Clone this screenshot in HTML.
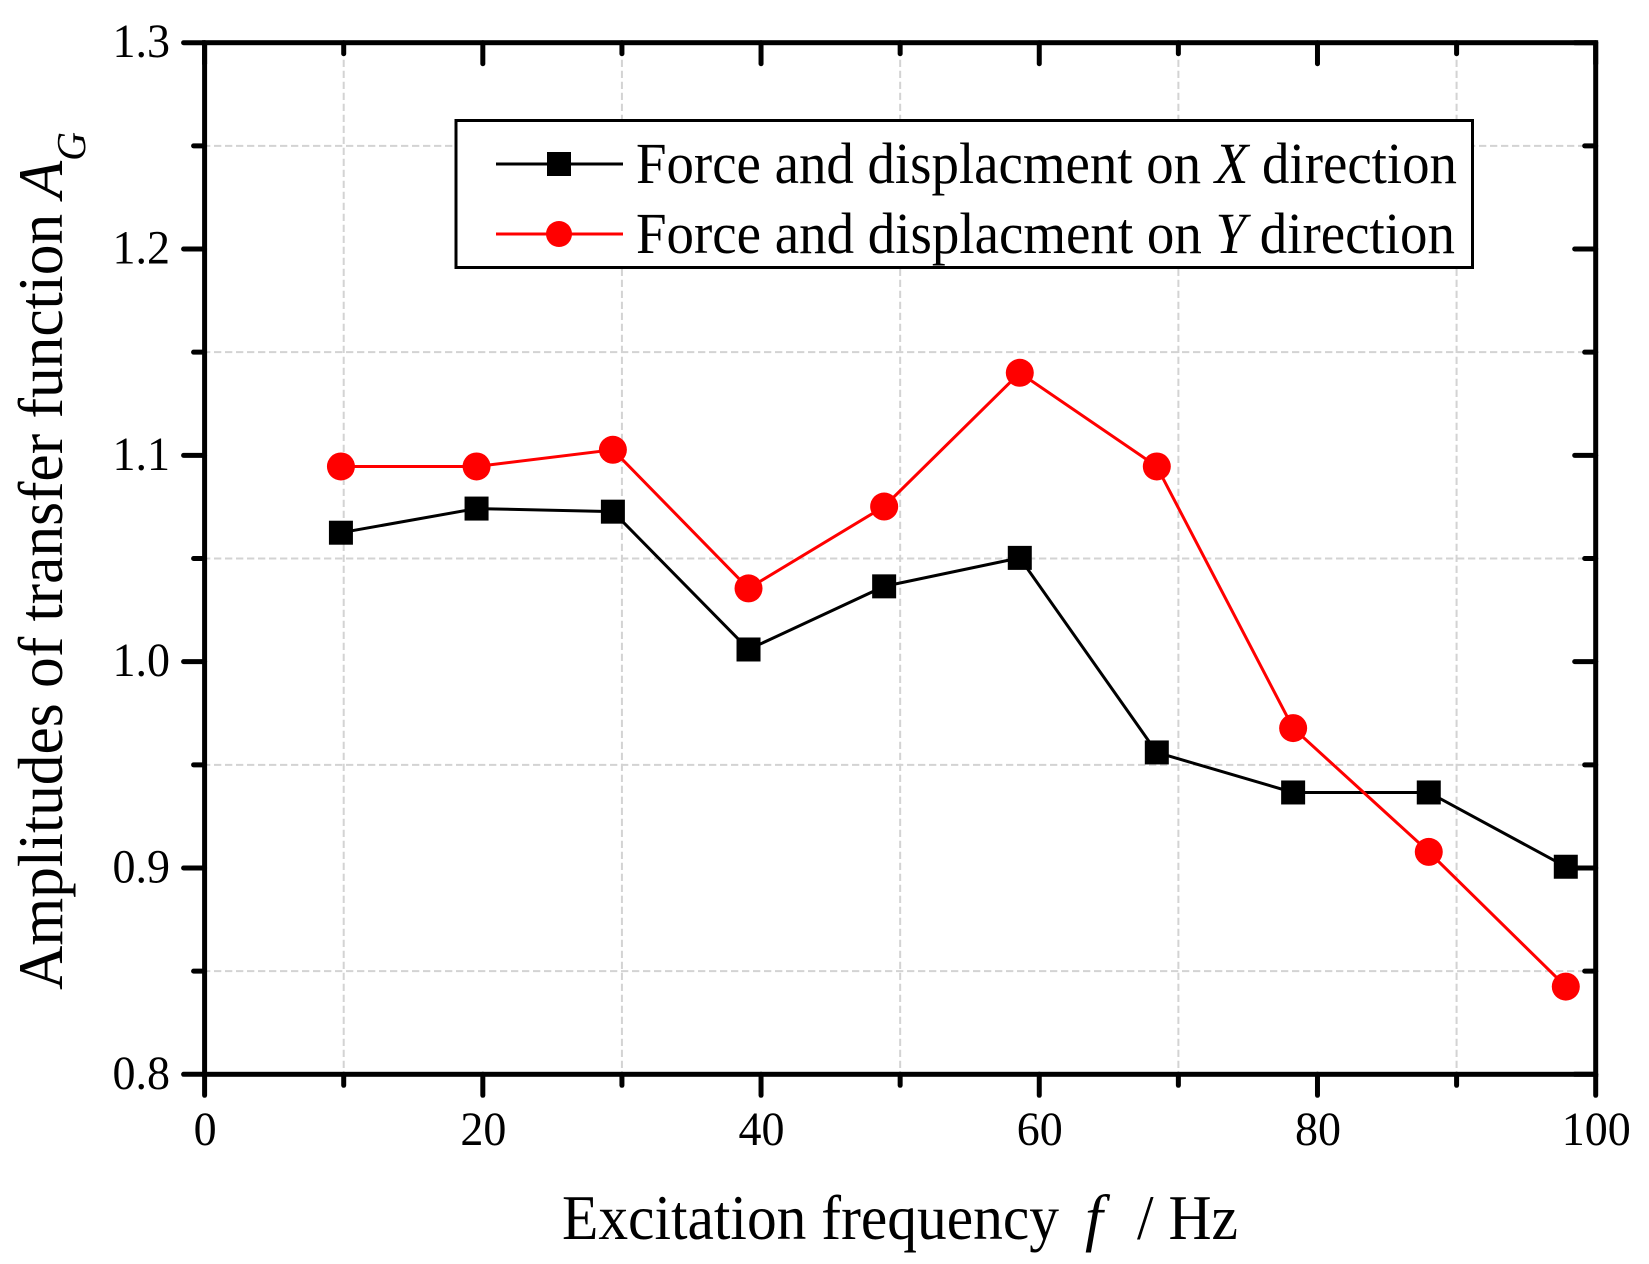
<!DOCTYPE html>
<html>
<head>
<meta charset="utf-8">
<title>Amplitudes of transfer function</title>
<style>
html,body{margin:0;padding:0;background:#fff;}
svg{display:block;}
text{font-family:"Liberation Serif",serif;fill:#000;}
</style>
</head>
<body>
<svg id="chart" width="1649" height="1264" viewBox="0 0 1649 1264" xmlns="http://www.w3.org/2000/svg">
<rect x="0" y="0" width="1649" height="1264" fill="#fff"/>
<g id="grid"></g>
<g id="axes"></g>
<g id="series"></g>
<g>
<rect x="456" y="120.5" width="1016.5" height="147" fill="#fff" stroke="#000" stroke-width="3"/>
<g>
<line x1="496" y1="164" x2="623" y2="164" stroke="#000" stroke-width="3"/>
<rect x="547" y="152" width="24" height="24" fill="#000"/>
<text x="636" y="183" font-size="58" textLength="821" lengthAdjust="spacingAndGlyphs">Force and displacment on <tspan font-style="italic">X</tspan> direction</text>
</g>
<g>
<line x1="496" y1="234" x2="623" y2="234" stroke="#f00" stroke-width="3"/>
<circle cx="559" cy="234" r="13" fill="#f00"/>
<text x="636" y="253" font-size="58" textLength="819" lengthAdjust="spacingAndGlyphs">Force and displacment on <tspan font-style="italic">Y</tspan> direction</text>
</g>
</g>
<g>
<text x="562" y="1239" font-size="64" textLength="497" lengthAdjust="spacingAndGlyphs">Excitation frequency</text>
<text x="1085" y="1239" font-size="64" font-style="italic">f</text>
<text x="1137" y="1239" font-size="64" textLength="101" lengthAdjust="spacingAndGlyphs">/ Hz</text>
</g>
<text transform="translate(62,990) rotate(-90)" x="0" y="0" font-size="63" textLength="858" lengthAdjust="spacingAndGlyphs">Amplitudes of transfer function <tspan font-style="italic">A</tspan><tspan font-style="italic" font-size="41" dy="23">G</tspan></text>
</svg>
<script>
var xValues = [9.8, 19.55, 29.35, 39.1, 48.85, 58.6, 68.45, 78.25, 88.0, 97.85];
var forceDispX = [1.0625, 1.0742, 1.0727, 1.0059, 1.0365, 1.0503, 0.9560, 0.9366, 0.9366, 0.9006];
var forceDispY = [1.0946, 1.0946, 1.1027, 1.0355, 1.0752, 1.1400, 1.0946, 0.9678, 0.9078, 0.8425];
var xMajorTicks = [0, 20, 40, 60, 80, 100];
var xMinorTicks = [10, 30, 50, 70, 90];
var yMajorTicks = [0.8, 0.9, 1.0, 1.1, 1.2, 1.3];
var yMinorTicks = [0.85, 0.95, 1.05, 1.15, 1.25];

var NS = 'http://www.w3.org/2000/svg';
var plotLeft = 204.6, plotRight = 1595.7, plotTop = 42.7, plotBottom = 1074.3;
function xScale(v) { return plotLeft + (v - 0) / 100 * (plotRight - plotLeft); }
function yScale(v) { return plotBottom - (v - 0.8) / 0.5 * (plotBottom - plotTop); }
function make(tag, attrs, parent) {
  var el = document.createElementNS(NS, tag);
  for (var k in attrs) el.setAttribute(k, attrs[k]);
  parent.appendChild(el);
  return el;
}
function labelWidth(str) {
  var w = 0;
  for (var i = 0; i < str.length; i++) w += (str[i] === '.' ? 0.25 : 0.5) * 46;
  return w;
}
var gridG = document.getElementById('grid');
var axesG = document.getElementById('axes');
var seriesG = document.getElementById('series');

xMinorTicks.forEach(function (t) {
  var el = make('line', {x1: xScale(t), x2: xScale(t), y1: plotTop + 6, y2: plotBottom, stroke: '#d3d3d3', 'stroke-width': 2, 'stroke-dasharray': '7.3 3.7'}, gridG);
  
  
});
yMinorTicks.forEach(function (t) {
  var el = make('line', {x1: plotLeft - 1.6, x2: plotRight, y1: yScale(t), y2: yScale(t), stroke: '#d3d3d3', 'stroke-width': 2, 'stroke-dasharray': '7.3 3.7'}, gridG);
  
  
});

function tick(x1, y1, x2, y2, name) {
  var el = make('line', {x1: x1, y1: y1, x2: x2, y2: y2, stroke: '#000', 'stroke-width': 5, 'stroke-linecap': 'round'}, axesG);
  
  
}
xMajorTicks.forEach(function (t) {
  var x = xScale(t);
  tick(x, plotBottom, x, plotBottom + 21, 'x-major-tick');
  tick(x, plotTop, x, plotTop + 21, 'x-major-tick-top');
  var str = String(t);
  var label = make('text', {x: x + 0.5, y: 1145, 'font-size': 48, 'text-anchor': 'middle', textLength: labelWidth(str), lengthAdjust: 'spacingAndGlyphs'}, axesG);
  label.textContent = str;
  
  
});
xMinorTicks.forEach(function (t) {
  var x = xScale(t);
  tick(x, plotBottom, x, plotBottom + 11, 'x-minor-tick');
  tick(x, plotTop, x, plotTop + 11, 'x-minor-tick-top');
});
yMajorTicks.forEach(function (t) {
  var y = yScale(t);
  tick(plotLeft, y, plotLeft - 21, y, 'y-major-tick');
  tick(plotRight, y, plotRight - 21, y, 'y-major-tick-right');
  var str = t.toFixed(1);
  var label = make('text', {x: 170, y: y + 14.5, 'font-size': 48, 'text-anchor': 'end', textLength: labelWidth(str), lengthAdjust: 'spacingAndGlyphs'}, axesG);
  label.textContent = str;
  
  
});
yMinorTicks.forEach(function (t) {
  var y = yScale(t);
  tick(plotLeft, y, plotLeft - 11, y, 'y-minor-tick');
  tick(plotRight, y, plotRight - 11, y, 'y-minor-tick-right');
});
var frame = make('rect', {x: plotLeft, y: plotTop, width: plotRight - plotLeft, height: plotBottom - plotTop, fill: 'none', stroke: '#000', 'stroke-width': 5}, axesG);



function polyPoints(values) {
  return values.map(function (v, i) { return xScale(xValues[i]) + ',' + yScale(v); }).join(' ');
}
var lineX = make('polyline', {points: polyPoints(forceDispX), fill: 'none', stroke: '#000', 'stroke-width': 3}, seriesG);


var lineY = make('polyline', {points: polyPoints(forceDispY), fill: 'none', stroke: '#f00', 'stroke-width': 3}, seriesG);


forceDispX.forEach(function (v, i) {
  var el = make('rect', {x: xScale(xValues[i]) - 12, y: yScale(v) - 12, width: 24, height: 24, fill: '#000'}, seriesG);
  
  
});
forceDispY.forEach(function (v, i) {
  var el = make('circle', {cx: xScale(xValues[i]), cy: yScale(v), r: 14, fill: '#f00'}, seriesG);
  
  
});
</script>
</body>
</html>
